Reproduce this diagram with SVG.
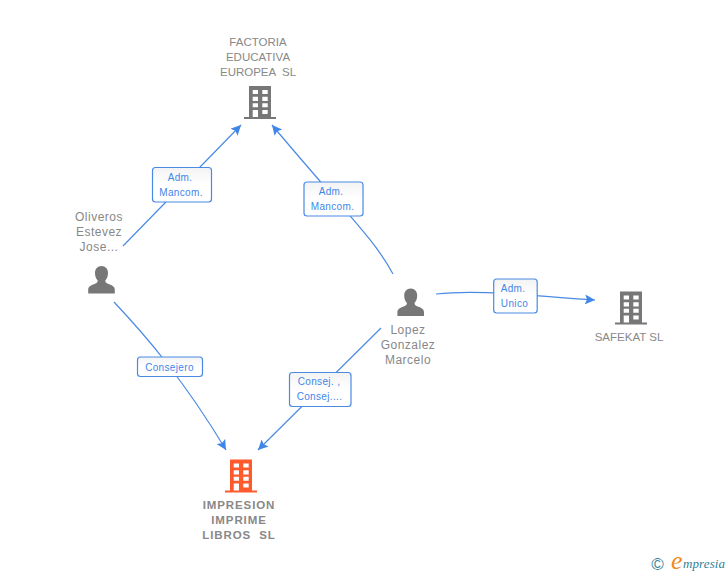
<svg xmlns="http://www.w3.org/2000/svg" width="728" height="575" viewBox="0 0 728 575">
<style>
.t{font-family:"Liberation Sans",Arial,sans-serif;font-size:11.5px;fill:#888;text-anchor:middle;white-space:pre}
.m{font-size:12px;letter-spacing:.5px}
.b{font-weight:bold;letter-spacing:.9px}
.l{font-family:"Liberation Sans",Arial,sans-serif;font-size:10px;letter-spacing:.35px;fill:#3f86e8;text-anchor:middle}
.box{fill:url(#g);stroke:#4a8ae4;stroke-width:1.2}
.c{fill:none;stroke:#4a8ae4;stroke-width:1.2;marker-end:url(#a)}
</style>
<defs>
<linearGradient id="g" x1="0" y1="0" x2="0" y2="1"><stop offset="0" stop-color="#f3f3f3"/><stop offset="0.5" stop-color="#fff"/><stop offset="1" stop-color="#fff"/></linearGradient>
<marker id="a" markerUnits="userSpaceOnUse" markerWidth="12" markerHeight="12" refX="10" refY="5" orient="auto"><path d="M0 0L10 5L0 10L2 5Z" fill="#3f86e8"/></marker>
<path id="bld" fill-rule="evenodd" d="M-11 0H11V31H16V33H-16V31H-11ZM-7.3 4V8H-2V4ZM2.3 4V8H7.7V4ZM-7.3 10.7V15H-2V10.7ZM2.3 10.7V15H7.7V10.7ZM-7.3 17.3V21.3H-2V17.3ZM2.3 17.3V21.3H7.7V17.3ZM-7.3 24V31H-2V24ZM2.3 24V28H7.7V24Z"/>
<path id="per" d="M0 0C4 0 6.5 3 6.5 7C6.5 10 5.500 12.500 3.800 14.500C3.800 16 4.500 17 7 18C11 19.500 13.300 20.500 13.300 24V27.500H-13.300V24C-13.300 20.500 -11 19.500 -7 18C-4.500 17 -3.800 16 -3.800 14.500C-5.500 12.500 -6.500 10 -6.500 7C-6.500 3 -4 0 0 0Z"/>
</defs>
<rect width="728" height="575" fill="#fff"/>
<g id="connectors">
<path class="c" d="M123 246L241 125"/>
<path class="c" d="M393 274C375 240 345 212 272 125"/>
<path class="c" d="M114 302C146 336 184 380 226 450"/>
<path class="c" d="M381 328L258 450"/>
<path class="c" d="M436 294C480 289 530 296 595 300"/>
</g>
<g id="node-factoria">
<text class="t" x="258" y="46">FACTORIA</text><text class="t" x="258" y="61">EDUCATIVA</text><text class="t" x="258" y="76">EUROPEA  SL</text>
<use href="#bld" x="260" y="86" fill="#777"/>
</g>
<g id="node-oliveros">
<text class="t m" x="99" y="221">Oliveros</text><text class="t m" x="99" y="236">Estevez</text><text class="t m" x="99" y="251">Jose...</text>
<use href="#per" x="101.500" y="266" fill="#777"/>
</g>
<g id="node-lopez">
<use href="#per" x="410.700" y="288.500" fill="#777"/>
<text class="t m" x="408" y="334">Lopez</text><text class="t m" x="408" y="349">Gonzalez</text><text class="t m" x="408" y="364">Marcelo</text>
</g>
<g id="node-safekat">
<use href="#bld" x="631" y="291.500" fill="#777"/>
<text class="t" x="629" y="341">SAFEKAT SL</text>
</g>
<g id="node-impresion">
<use href="#bld" x="241" y="459.500" fill="#ff5a2b"/>
<text class="t b" x="239" y="509">IMPRESION</text><text class="t b" x="239" y="524">IMPRIME</text><text class="t b" x="239" y="539">LIBROS  SL</text>
</g>
<g id="label-1"><rect class="box" x="152.500" y="167.500" width="59" height="34.500" rx="3"/><text class="l" x="180" y="181">Adm.</text><text class="l" x="181" y="196">Mancom.</text></g>
<g id="label-2"><rect class="box" x="304" y="182" width="59" height="34" rx="3"/><text class="l" x="331" y="195">Adm.</text><text class="l" x="332.500" y="210">Mancom.</text></g>
<g id="label-3"><rect class="box" x="137.500" y="357" width="65" height="19.500" rx="3"/><text class="l" x="169.500" y="370.500">Consejero</text></g>
<g id="label-4"><rect class="box" x="493.700" y="279" width="43.500" height="34" rx="3"/><text class="l" x="513" y="292">Adm.</text><text class="l" x="514.500" y="307">Unico</text></g>
<g id="label-5"><rect class="box" x="289.500" y="372.500" width="61.500" height="34" rx="3"/><text class="l" x="319" y="385">Consej. ,</text><text class="l" x="319.500" y="400">Consej....</text></g>
<g id="logo">
<text x="657.500" y="570" font-family="Liberation Sans,sans-serif" font-size="17" fill="#3a7f9a" text-anchor="middle">©</text>
<text x="671" y="569" font-family="Liberation Serif,serif" font-style="italic" font-size="26" fill="#f08a1d">e</text>
<text x="683" y="568" font-family="Liberation Serif,serif" font-style="italic" font-size="13" letter-spacing=".1" fill="#2f7f96">mpresia</text>
</g>
</svg>
